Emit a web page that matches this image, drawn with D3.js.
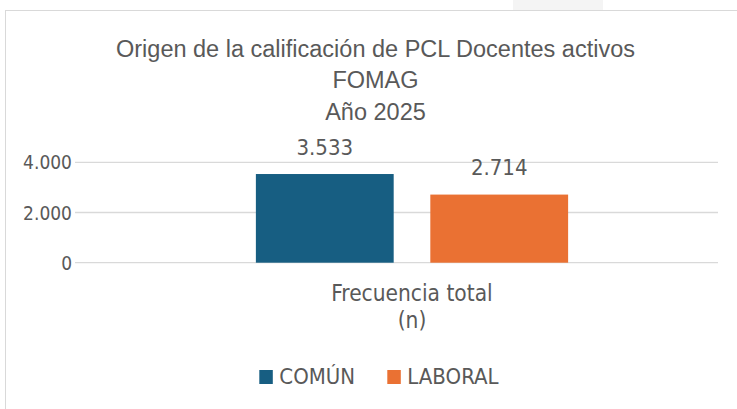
<!DOCTYPE html>
<html lang="es">
<head>
<meta charset="UTF-8">
<title>Origen de la calificación de PCL</title>
<script src="https://d3js.org/d3.v7.min.js"></script>
<style>
  body { margin: 0; background: #fff; }
  svg { display: block; }
  .title { font-family: "Liberation Sans", Arial, sans-serif; font-size: 23.5px; fill: #595959; }
  .lbl { font-family: "DejaVu Sans Condensed", "DejaVu Sans", sans-serif; font-stretch: condensed; fill: #595959; }
</style>
</head>
<body>
<div id="chart"></div>
<script>
// data
var categories = ["Frecuencia total (n)"];
var series = ["COMÚN", "LABORAL"];
var values = [3533, 2714];
var colors = ["#175E82", "#EA7133"];
var yTicks = [0, 2000, 4000];
var titleLines = ["Origen de la calificación de PCL Docentes activos", "FOMAG", "Año 2025"];

var width = 737, height = 409;

var svg = d3.select("#chart").append("svg")
    .attr("width", width)
    .attr("height", height);

// faint strip above chart frame
svg.append("rect").attr("x", 513).attr("y", 0).attr("width", 90).attr("height", 10).attr("fill", "#f4f4f4");

// chart frame
svg.append("rect")
    .attr("x", 5.5).attr("y", 10.5)
    .attr("width", width + 10).attr("height", height)
    .attr("fill", "#fff").attr("stroke", "#d9d9d9");

var fmt = function(v) { return d3.format(",")(v).replace(/,/g, "."); };

var y = d3.scaleLinear().domain([0, 4000]).range([262.7, 162.3]);
var x0 = d3.scaleBand().domain(categories).range([106, 718]).paddingInner(0).paddingOuter(0.48);
var x1 = d3.scaleBand().domain(series).range([0, x0.bandwidth()]).paddingInner(0.21);

// title
svg.append("g").selectAll("text")
    .data(titleLines)
    .join("text")
    .attr("class", "title")
    .attr("x", 375.5)
    .attr("y", function(d, i) { return 56.5 + i * 31.5; })
    .attr("text-anchor", "middle")
    .text(function(d) { return d; });

// gridlines + y axis labels
var grid = svg.append("g");
grid.selectAll("line")
    .data(yTicks)
    .join("line")
    .attr("x1", 75).attr("x2", 718)
    .attr("y1", function(d) { return y(d); })
    .attr("y2", function(d) { return y(d); })
    .attr("stroke", "#d9d9d9").attr("stroke-width", 1.3);

grid.selectAll("text")
    .data(yTicks)
    .join("text")
    .attr("class", "lbl")
    .attr("x", 72)
    .attr("y", function(d) { return y(d) + 7; })
    .attr("text-anchor", "end")
    .attr("font-size", 19)
    .text(fmt);

// bars
var g = svg.append("g").attr("transform", "translate(" + x0(categories[0]) + ",0)");
g.selectAll("rect")
    .data(values)
    .join("rect")
    .attr("x", function(d, i) { return x1(series[i]); })
    .attr("y", function(d) { return y(d); })
    .attr("width", x1.bandwidth())
    .attr("height", function(d) { return y(0) - y(d); })
    .attr("fill", function(d, i) { return colors[i]; });

g.selectAll("text")
    .data(values)
    .join("text")
    .attr("class", "lbl")
    .attr("x", function(d, i) { return x1(series[i]) + x1.bandwidth() / 2; })
    .attr("y", function(d) { return y(d) - 19.5; })
    .attr("text-anchor", "middle")
    .attr("font-size", 22)
    .text(fmt);

// category label (two lines)
var cx = x0(categories[0]) + x0.bandwidth() / 2;
svg.append("text")
    .attr("class", "lbl")
    .attr("x", cx).attr("y", 300.7)
    .attr("text-anchor", "middle")
    .attr("font-size", 22.5)
    .selectAll("tspan")
    .data(["Frecuencia total", "(n)"])
    .join("tspan")
    .attr("x", cx)
    .attr("dy", function(d, i) { return i === 0 ? 0 : 27; })
    .text(function(d) { return d; });

// legend
var legX = [259.3, 387.3];
var leg = svg.append("g").selectAll("g")
    .data(series)
    .join("g")
    .attr("transform", function(d, i) { return "translate(" + legX[i] + ",370)"; });
leg.append("rect").attr("width", 13.5).attr("height", 14)
    .attr("fill", function(d, i) { return colors[i]; });
leg.append("text")
    .attr("class", "lbl")
    .attr("x", 20).attr("y", 13.5)
    .attr("font-size", 22)
    .text(function(d) { return d; });
</script>
</body>
</html>
